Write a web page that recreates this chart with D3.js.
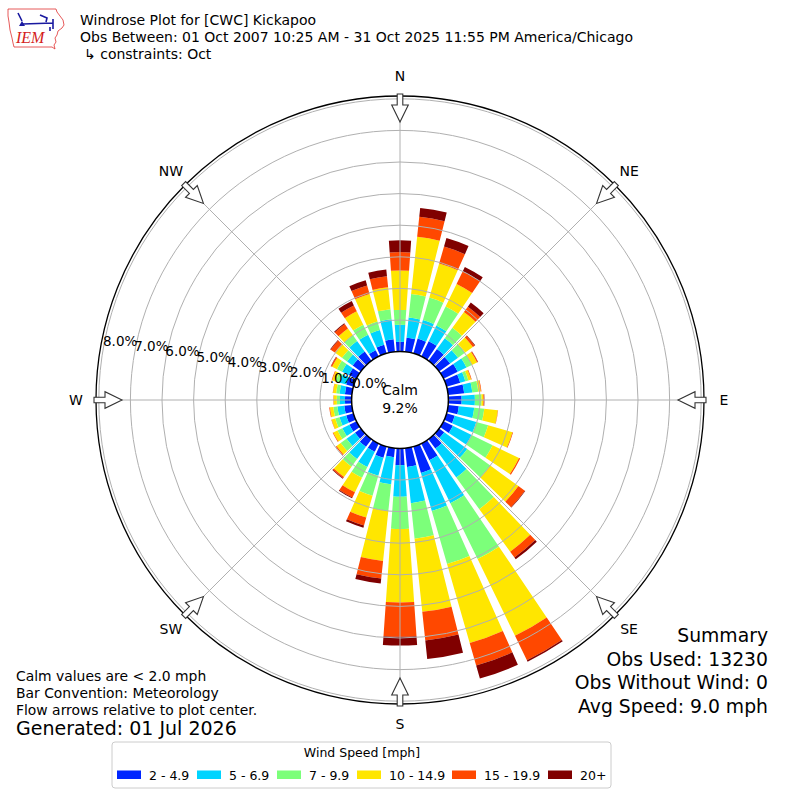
<!DOCTYPE html>
<html>
<head>
<meta charset="utf-8">
<script src="https://cdn.jsdelivr.net/npm/d3@7"></script>
<style>
  body { margin: 0; background: #fff; }
  text { font-family: "DejaVu Sans", sans-serif; fill: #000; }
</style>
</head>
<body>
<div id="container"></div>
<script>
/* DATA ####################################################### */
const directions = [0, 10, 20, 30, 40, 50, 60, 70, 80, 90, 100, 110,
  120, 130, 140, 150, 160, 170, 180, 190, 200, 210, 220, 230,
  240, 250, 260, 270, 280, 290, 300, 310, 320, 330, 340, 350];

const speedBins = ["2 - 4.9", "5 - 6.9", "7 - 9.9", "10 - 14.9", "15 - 19.9", "20+"];
const binColors = ["#0026ff", "#00d4ff", "#7cff7a", "#ffe600", "#ff4800", "#800000"];

// percent of obs per direction, one array per speed bin
const spd2to5 = [0.31, 0.45, 0.49, 0.54, 0.46, 0.43, 0.50, 0.45, 0.51, 0.42, 0.34, 0.27,
  0.33, 0.20, 0.37, 0.59, 0.87, 0.60, 0.53, 0.29, 0.37, 0.29, 0.30, 0.23,
  0.25, 0.24, 0.24, 0.21, 0.22, 0.24, 0.27, 0.32, 0.37, 0.22, 0.29, 0.40];
const spd5to7 = [0.54, 0.64, 0.61, 0.55, 0.42, 0.31, 0.31, 0.17, 0.26, 0.42, 0.49, 0.71,
  0.66, 0.90, 1.13, 1.51, 1.25, 1.15, 1.00, 0.86, 0.59, 0.54, 0.48, 0.33,
  0.25, 0.22, 0.22, 0.16, 0.17, 0.21, 0.24, 0.22, 0.41, 0.55, 0.48, 0.64];
const spd7to10 = [0.47, 0.75, 0.74, 0.67, 0.41, 0.28, 0.19, 0.10, 0.19, 0.21, 0.32, 0.39,
  0.74, 0.90, 1.24, 1.97, 1.75, 1.13, 1.02, 0.85, 0.66, 0.38, 0.30, 0.23,
  0.17, 0.14, 0.13, 0.10, 0.11, 0.13, 0.18, 0.20, 0.22, 0.35, 0.28, 0.32];
const spd10to15 = [1.25, 1.82, 1.12, 0.79, 0.62, 0.30, 0.18, 0.09, 0.08, 0.06, 0.43, 0.80,
  0.93, 1.10, 1.66, 2.70, 2.60, 2.33, 2.33, 1.59, 0.72, 0.51, 0.40, 0.16,
  0.15, 0.12, 0.11, 0.10, 0.10, 0.12, 0.17, 0.28, 0.27, 0.47, 0.91, 0.70];
const spd15to20 = [0.58, 0.64, 0.56, 0.45, 0.21, 0.07, 0.03, 0.02, 0.02, 0.02, 0.01, 0.02,
  0.04, 0.25, 0.23, 0.86, 0.74, 0.91, 1.08, 0.56, 0.26, 0.18, 0.05, 0.03,
  0.02, 0.01, 0.02, 0.01, 0.01, 0.02, 0.04, 0.16, 0.17, 0.21, 0.28, 0.35];
const spd20up = [0.37, 0.28, 0.28, 0.15, 0.16, 0.02, 0.01, 0.00, 0.00, 0.01, 0.00, 0.00,
  0.00, 0.02, 0.07, 0.05, 0.43, 0.59, 0.28, 0.16, 0.07, 0.03, 0.02, 0.00,
  0.00, 0.00, 0.00, 0.00, 0.00, 0.00, 0.01, 0.02, 0.03, 0.15, 0.17, 0.21];

const ringTicks = [0, 1, 2, 3, 4, 5, 6, 7, 8];
const compassLabels = ["N", "NE", "E", "SE", "S", "SW", "W", "NW"];
const compassAngles = [0, 45, 90, 135, 180, 225, 270, 315];
const calmPct = 9.2;

const titleLines = [
  "Windrose Plot for [CWC] Kickapoo",
  "Obs Between: 01 Oct 2007 10:25 AM - 31 Oct 2025 11:55 PM America/Chicago",
  "\u21b3 constraints: Oct",
];
const noteLines = [
  "Calm values are < 2.0 mph",
  "Bar Convention: Meteorology",
  "Flow arrows relative to plot center.",
];
const generatedText = "Generated: 01 Jul 2026";
const summaryLines = ["Summary", "Obs Used: 13230", "Obs Without Wind: 0", "Avg Speed: 9.0 mph"];

/* CONSTANTS ################################################## */
const width = 800;
const height = 800;
const cx = 400;
const cy = 400;
const calmR = 48.4;
const outerR = 304;
const barHalfWidth = 4; // degrees
// legend swatch left edges
const legendX = [117, 197, 277, 357, 452, 548];

/* SCALES ##################################################### */
const rScale = d3.scaleLinear().domain([0, 8]).range([calmR, 301.2]);
const aScale = d3.scaleLinear().domain([0, 360]).range([0, 2 * Math.PI]);
const colorScale = d3.scaleOrdinal().domain(speedBins).range(binColors);

// table for d3.stack
const binKeys = speedBins;
const binSeries = [spd2to5, spd5to7, spd7to10, spd10to15, spd15to20, spd20up];
const table = directions.map((dir, i) => {
  const row = { dir };
  binKeys.forEach((k, j) => (row[k] = binSeries[j][i]));
  return row;
});
const stacked = d3.stack().keys(binKeys)(table);

/* SVG ######################################################## */
const svg = d3
  .select("#container")
  .append("svg")
  .attr("width", width)
  .attr("height", height)
  .style("background-color", "white");

const plot = svg.append("g").attr("transform", `translate(${cx},${cy})`);

// BARS -------------------------------------------------------
const arc = d3
  .arc()
  .innerRadius((d) => rScale(d[0]))
  .outerRadius((d) => rScale(d[1]))
  .startAngle((d) => aScale(d.data.dir - barHalfWidth))
  .endAngle((d) => aScale(d.data.dir + barHalfWidth));

plot
  .selectAll(".bin")
  .data(stacked)
  .join("g")
  .attr("class", "bin")
  .attr("fill", (s) => colorScale(s.key))
  .selectAll("path")
  .data((s) => s.filter((d) => d[1] - d[0] > 0))
  .join("path")
  .attr("d", arc);

// GRID (drawn over bars) ------------------------------------
plot
  .selectAll(".ring")
  .data(ringTicks.slice(1))
  .join("circle")
  .attr("class", "ring")
  .attr("r", (d) => rScale(d))
  .attr("fill", "none")
  .attr("stroke", "#b0b0b0")
  .attr("stroke-width", 1);

plot
  .selectAll(".spoke")
  .data(compassAngles)
  .join("line")
  .attr("class", "spoke")
  .attr("x1", (a) => calmR * Math.sin(aScale(a)))
  .attr("y1", (a) => -calmR * Math.cos(aScale(a)))
  .attr("x2", (a) => outerR * Math.sin(aScale(a)))
  .attr("y2", (a) => -outerR * Math.cos(aScale(a)))
  .attr("stroke", "#b0b0b0")
  .attr("stroke-width", 1);

// outer frame
plot
  .append("circle")
  .attr("r", outerR)
  .attr("fill", "none")
  .attr("stroke", "black")
  .attr("stroke-width", 1.3);

// CALM CIRCLE --------------------------------------------------
plot
  .append("circle")
  .attr("r", calmR)
  .attr("fill", "white")
  .attr("stroke", "black")
  .attr("stroke-width", 1.5);

plot
  .append("text")
  .attr("text-anchor", "middle")
  .attr("y", -5)
  .style("font-size", "14px")
  .text("Calm");
plot
  .append("text")
  .attr("text-anchor", "middle")
  .attr("y", 13)
  .style("font-size", "14px")
  .text(`${calmPct.toFixed(1)}%`);

// RING LABELS ------------------------------------------------
const labelAngle = (9.6 * Math.PI) / 180;
plot
  .selectAll(".ring-label")
  .data(ringTicks)
  .join("text")
  .attr("class", "ring-label")
  .attr("x", (d) => -rScale(d) * Math.cos(labelAngle))
  .attr("y", (d) => -rScale(d) * Math.sin(labelAngle) - 9)
  .attr("dominant-baseline", "central")
  .style("font-size", "13.5px")
  .text((d) => `${d.toFixed(1)}%`);

// COMPASS ARROWS ---------------------------------------------
const arrowPts = [
  [-2.8, -306], [2.8, -306], [2.8, -295], [8.3, -295],
  [0, -278], [-8.3, -295], [-2.8, -295],
];
plot
  .selectAll(".arrow")
  .data(compassAngles)
  .join("polygon")
  .attr("class", "arrow")
  .attr("points", arrowPts.map((p) => p.join(",")).join(" "))
  .attr("transform", (a) => `rotate(${a})`)
  .attr("fill", "white")
  .attr("stroke", "#333")
  .attr("stroke-width", 1.1);

plot
  .selectAll(".dir-label")
  .data(compassLabels)
  .join("text")
  .attr("class", "dir-label")
  .attr("x", (d, i) => 324 * Math.sin(aScale(compassAngles[i])))
  .attr("y", (d, i) => -324 * Math.cos(aScale(compassAngles[i])))
  .attr("text-anchor", "middle")
  .attr("dominant-baseline", "central")
  .style("font-size", "14px")
  .text((d) => d);

// TITLE ------------------------------------------------------
svg
  .selectAll(".title")
  .data(titleLines)
  .join("text")
  .attr("class", "title")
  .attr("x", (d, i) => (i === 2 ? 84 : 80))
  .attr("y", (d, i) => 25 + i * 17)
  .style("font-size", "14px")
  .text((d) => d);

// LOGO -------------------------------------------------------
const logo = svg.append("g");
logo
  .append("path")
  .attr(
    "d",
    "M8,9 L56,9 L57,12 L60,16 L63,20 L64,25 L62,28 L58,31 L57,35 L55,38 L56,42 L54,45 L55,49 L52,47 L14,47 L13,43 L12,38 L10,30 L9,22 L8,16 Z"
  )
  .attr("fill", "none")
  .attr("stroke", "#e03030")
  .attr("stroke-width", 0.8);
logo
  .append("path")
  .attr("d", "M18,13 Q20,17 22,21 M23,24 L53,23 M40,15 L47,18 L46,22 M53,19 L53,29 M50,27 L50,31")
  .attr("fill", "none")
  .attr("stroke", "#1a1aa0")
  .attr("stroke-width", 1.6);
logo
  .append("path")
  .attr("d", "M19,26 L22,21 L25,26 Z")
  .attr("fill", "#1a1aa0");
logo
  .append("text")
  .attr("x", 16)
  .attr("y", 43)
  .style("font-family", "'Liberation Serif', serif")
  .style("font-style", "italic")
  .style("font-size", "16px")
  .style("fill", "#d42020")
  .text("IEM");

// NOTES & SUMMARY --------------------------------------------
svg
  .selectAll(".note")
  .data(noteLines)
  .join("text")
  .attr("class", "note")
  .attr("x", 16)
  .attr("y", (d, i) => 681 + i * 17)
  .style("font-size", "13.9px")
  .text((d) => d);

svg
  .append("text")
  .attr("x", 16)
  .attr("y", 735)
  .style("font-size", "19px")
  .text(generatedText);

svg
  .selectAll(".summary")
  .data(summaryLines)
  .join("text")
  .attr("class", "summary")
  .attr("x", 768)
  .attr("y", (d, i) => 642 + i * 23.5)
  .attr("text-anchor", "end")
  .style("font-size", "18.8px")
  .text((d) => d);

// LEGEND -----------------------------------------------------
const legend = svg.append("g");
legend
  .append("rect")
  .attr("x", 112)
  .attr("y", 742)
  .attr("width", 499)
  .attr("height", 46)
  .attr("rx", 3)
  .attr("fill", "white")
  .attr("stroke", "#cccccc");
legend
  .append("text")
  .attr("x", 362)
  .attr("y", 757)
  .attr("text-anchor", "middle")
  .style("font-size", "12.5px")
  .text("Wind Speed [mph]");

legend
  .selectAll(".legend-swatch")
  .data(speedBins)
  .join("rect")
  .attr("class", "legend-swatch")
  .attr("x", (d, i) => legendX[i])
  .attr("y", 770.5)
  .attr("width", 24)
  .attr("height", 8.5)
  .attr("fill", (d) => colorScale(d));

legend
  .selectAll(".legend-label")
  .data(speedBins)
  .join("text")
  .attr("class", "legend-label")
  .attr("x", (d, i) => legendX[i] + 32)
  .attr("y", 779.5)
  .style("font-size", "12.5px")
  .text((d) => d);
</script>
</body>
</html>
